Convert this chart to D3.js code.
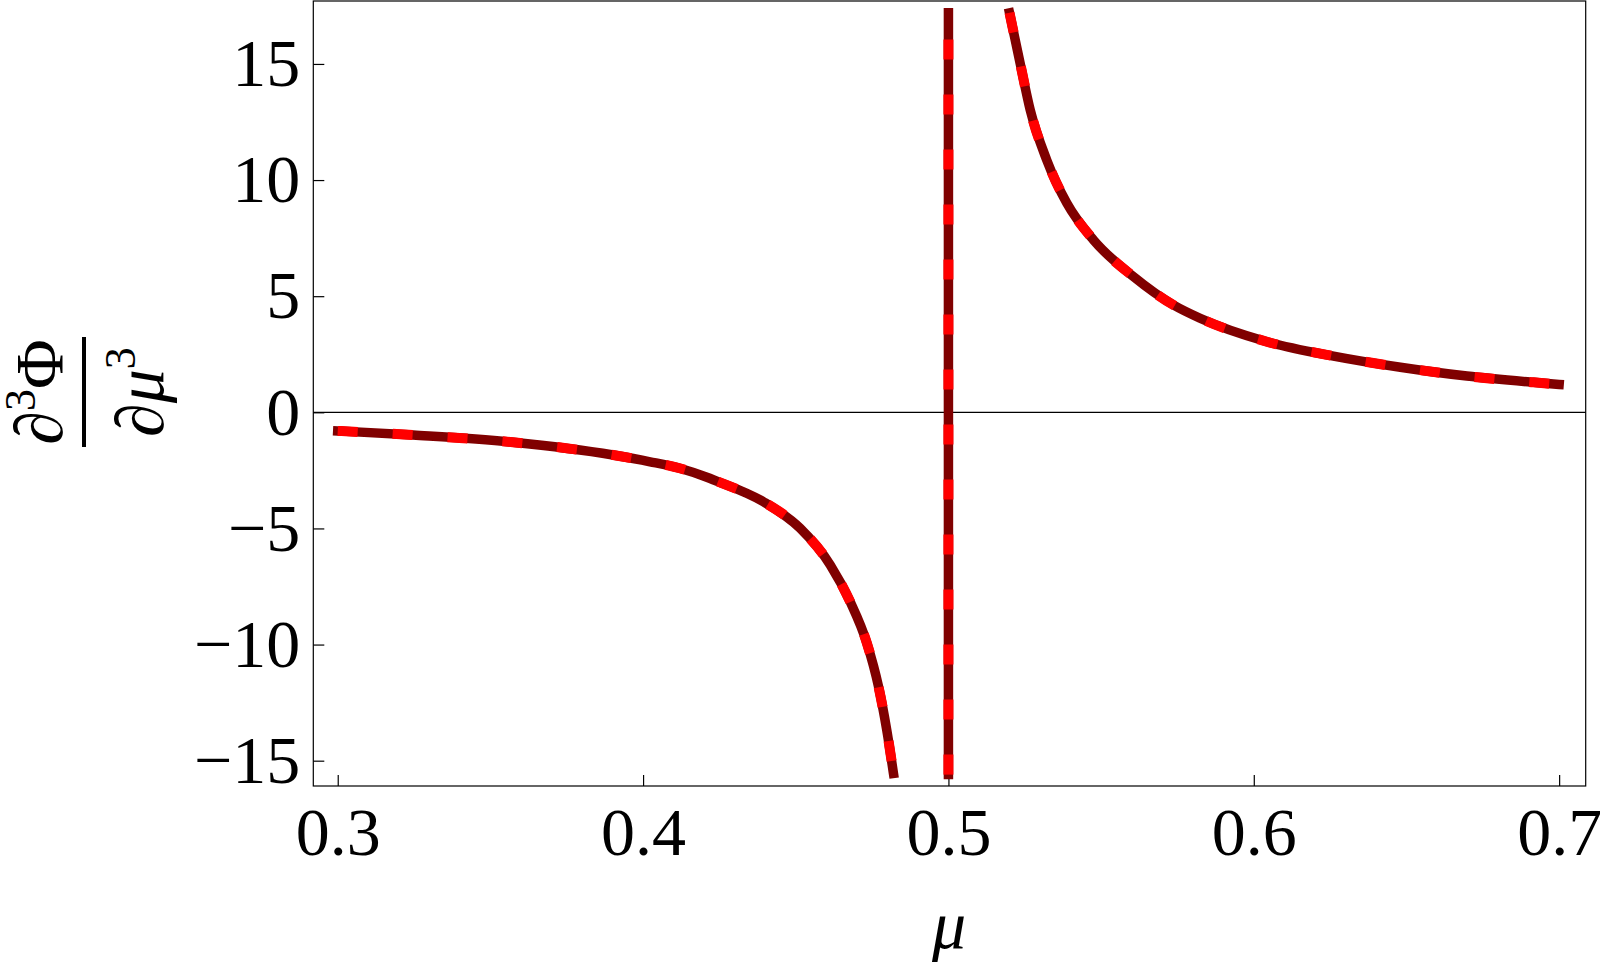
<!DOCTYPE html>
<html>
<head>
<meta charset="utf-8">
<script src="https://cdn.jsdelivr.net/npm/d3@7"></script>
<style>
  body { margin: 0; background: #fff; }
  text { font-family: "Liberation Serif", "Times New Roman", serif; fill: #000; }
</style>
</head>
<body>
<div id="chart"></div>
<script>
// Values: mu and d3Phi/dmu3 along each branch
var muLeft = [0.300, 0.3247, 0.3574, 0.3902, 0.4023, 0.412, 0.4218, 0.4241, 0.4394, 0.4514, 0.4613, 0.4678, 0.4733, 0.4771, 0.4798, 0.4820];
var phiLeft = [-0.80, -0.98, -1.29, -1.84, -2.13, -2.41, -2.84, -2.96, -3.85, -4.99, -6.57, -8.15, -9.94, -11.81, -13.68, -15.55];

// jump through the pole at mu = 0.5 (clipped to the plot range)
var muPole = [0.5, 0.5];
var phiPole = [-15.6, 17.2];

var muRight = [0.5200, 0.5235, 0.5268, 0.5322, 0.5388, 0.5475, 0.5606, 0.5737, 0.5824, 0.6043, 0.6261, 0.6480, 0.6698, 0.6916, 0.7000];
var phiRight = [17.2, 15.02, 13.01, 10.86, 9.0, 7.42, 5.84, 4.62, 4.05, 3.04, 2.42, 1.94, 1.56, 1.29, 1.20];

var xTicks = [0.3, 0.4, 0.5, 0.6, 0.7];
var yTicks = [-15, -10, -5, 0, 5, 10, 15];

// SVG dimensions
var svgWidth = 1600;
var svgHeight = 964;

var plot = { left: 313.3, right: 1585.7, top: 1, bottom: 786 };

var svg = d3.select("#chart")
  .append("svg")
  .attr("width", svgWidth)
  .attr("height", svgHeight);

var x = d3.scaleLinear()
  .domain([0.292, 0.7087])
  .range([plot.left, plot.right]);

var y = d3.scaleLinear()
  .domain([-16.09, 17.71])
  .range([plot.bottom, plot.top]);

// frame
svg.append("rect")
  .attr("x", plot.left)
  .attr("y", plot.top)
  .attr("width", plot.right - plot.left)
  .attr("height", plot.bottom - plot.top)
  .attr("fill", "none")
  .attr("stroke", "#000")
  .attr("stroke-width", 1.2);

// zero axis line
svg.append("line")
  .attr("x1", plot.left)
  .attr("x2", plot.right)
  .attr("y1", y(0))
  .attr("y2", y(0))
  .attr("stroke", "#000")
  .attr("stroke-width", 1.2);

// axes with inward ticks
var bottomAxis = d3.axisBottom(x)
  .tickValues(xTicks)
  .tickSize(-11)
  .tickPadding(21)
  .tickFormat(d3.format(".1f"));

var leftAxis = d3.axisLeft(y)
  .tickValues(yTicks)
  .tickSize(-11)
  .tickPadding(13)
  .tickFormat(function(d) { return d < 0 ? "\u2212" + Math.abs(d) : d; });

var xAxis = svg.append("g")
  .attr("transform", `translate(0, ${plot.bottom})`)
  .call(bottomAxis);

var yAxis = svg.append("g")
  .attr("transform", `translate(${plot.left}, 0)`)
  .call(leftAxis);

[xAxis, yAxis].forEach(function(ax) {
  ax.select(".domain").remove();
  ax.selectAll("line").attr("stroke", "#000").attr("stroke-width", 1.2);
  ax.selectAll("text")
    .attr("font-size", 68)
    .attr("font-family", "'Liberation Serif', 'Times New Roman', serif")
    .attr("fill", "#000");
});

// curves: dark red solid with red dashes on top
var line = d3.line()
  .x(d => x(d[0]))
  .y(d => y(d[1]))
  .curve(d3.curveMonotoneX);

var straight = d3.line()
  .x(d => x(d[0]))
  .y(d => y(d[1]));

var segments = [
  { pts: d3.zip(muLeft, phiLeft), gen: line },
  { pts: d3.zip(muPole, phiPole), gen: straight },
  { pts: d3.zip(muRight, phiRight), gen: line }
];

segments.forEach(function(s) {
  svg.append("path")
    .attr("d", s.gen(s.pts))
    .attr("fill", "none")
    .attr("stroke", "#800000")
    .attr("stroke-width", 9.5)
    .attr("stroke-linecap", "square");
});

segments.forEach(function(s) {
  svg.append("path")
    .attr("d", s.gen(s.pts))
    .attr("fill", "none")
    .attr("stroke", "#ff0000")
    .attr("stroke-width", 10)
    .attr("stroke-dasharray", "20,35");
});

// x axis label
svg.append("text")
  .attr("x", 949)
  .attr("y", 948)
  .attr("text-anchor", "middle")
  .attr("font-size", 68)
  .attr("font-style", "italic")
  .text("\u03bc");

// y axis label: fraction, rotated
var yLab = svg.append("g")
  .attr("transform", "translate(0, 392) rotate(-90)");

var num = yLab.append("text")
  .attr("x", 0)
  .attr("y", 62)
  .attr("text-anchor", "middle")
  .attr("font-size", 68);
num.append("tspan").text("\u2202");
num.append("tspan").attr("font-size", 44).attr("dy", -27).text("3");
num.append("tspan").attr("dy", 27).text("\u03a6");

yLab.append("line")
  .attr("x1", -55)
  .attr("x2", 55)
  .attr("y1", 84)
  .attr("y2", 84)
  .attr("stroke", "#000")
  .attr("stroke-width", 4);

var den = yLab.append("text")
  .attr("x", 0)
  .attr("y", 163)
  .attr("text-anchor", "middle")
  .attr("font-size", 68);
den.append("tspan").text("\u2202");
den.append("tspan").attr("font-style", "italic").text("\u03bc");
den.append("tspan").attr("font-size", 44).attr("dy", -28).text("3");
</script>
</body>
</html>
